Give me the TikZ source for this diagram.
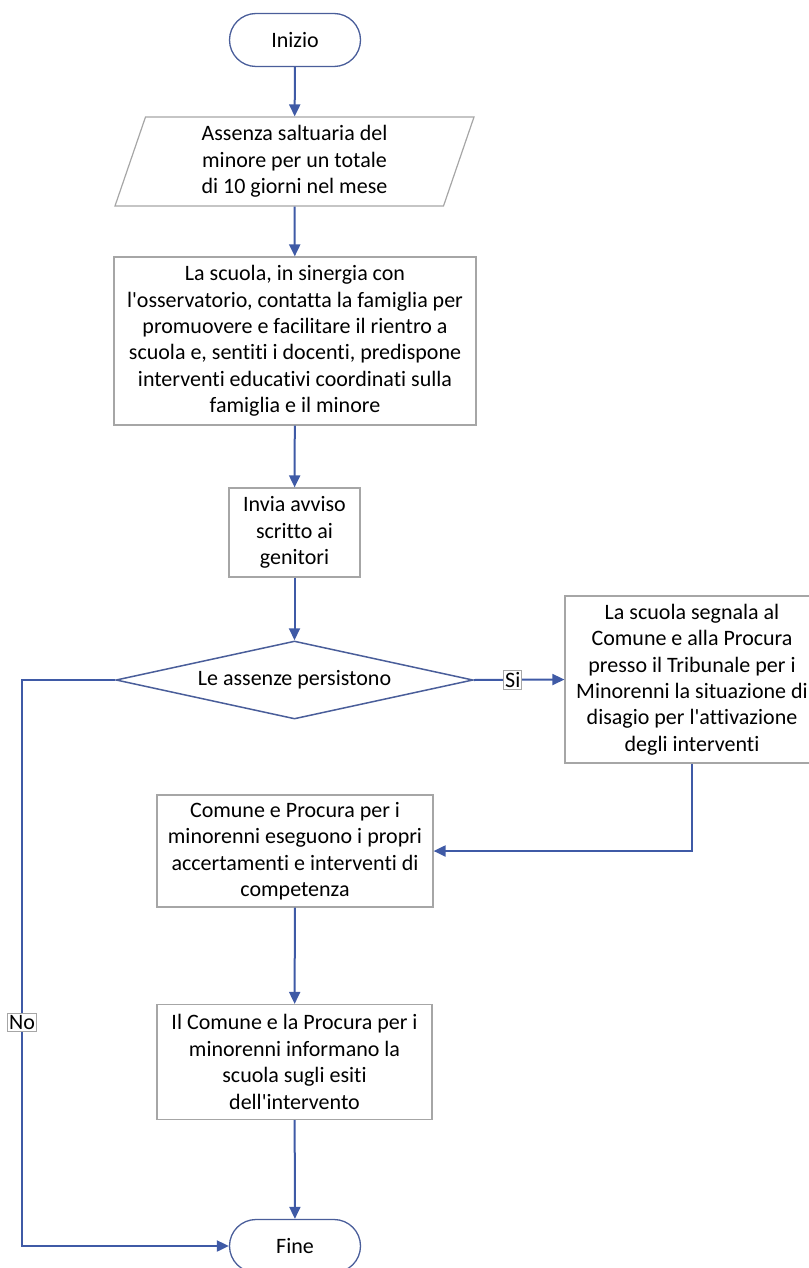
\documentclass[tikz,border=0pt]{standalone}
\usepackage{fontspec}
\setmainfont{Carlito}[Ligatures={NoCommon,TeXOff}]
\usetikzlibrary{arrows.meta,shapes.geometric,positioning}

\definecolor{linkblue}{HTML}{3F5AA6}
\definecolor{termblue}{HTML}{4A5E9A}
\definecolor{boxgray}{HTML}{A6A6A6}

\tikzset{
  every node/.style={font=\fontsize{22}{26.4}\selectfont, align=center, inner sep=0pt},
  terminal/.style={draw=termblue, line width=1.3pt, rounded corners=26.5pt, minimum width=131pt, minimum height=53pt},
  inputbox/.style={draw=boxgray, line width=1.2pt, trapezium, trapezium left angle=67, trapezium right angle=113,
    trapezium stretches body, minimum width=359pt, minimum height=89pt},
  actbox/.style={draw=boxgray, line width=1.2pt},
  choice/.style={draw=termblue, line width=1.5pt, diamond, aspect=4.5, minimum width=357pt, minimum height=78pt},
  flow/.style={draw=linkblue, line width=2pt, -{Triangle[length=12pt,width=11pt]}},
  tag/.style={draw=boxgray, fill=white, line width=0.8pt, inner sep=1.5pt}
}

\begin{document}
\begin{tikzpicture}[x=1pt,y=-1pt]
        \useasboundingbox (0,0) rectangle (808,1268);
        \node[terminal] (start) at (295,40) {Inizio};
        \node[inputbox] (input) at (294.5,161.5) {Assenza saltuaria del\\minore per un totale\\di 10 giorni nel mese};
        \node[actbox, minimum width=362pt, minimum height=168pt] (contact) at (295,341)
            {La scuola, in sinergia con\\l'osservatorio, contatta la famiglia per\\promuovere e facilitare il rientro a\\scuola e, sentiti i docenti, predispone\\interventi educativi coordinati sulla\\famiglia e il minore};
        \node[actbox, minimum width=131pt, minimum height=89pt] (notice) at (294.5,532.5) {Invia avviso\\scritto ai\\genitori};
        \node[choice] (persist) at (294.5,680) {Le assenze persistono};
        \node[actbox, minimum width=254pt, minimum height=167pt] (report) at (692,679.5)
            {La scuola segnala al\\Comune e alla Procura\\presso il Tribunale per i\\Minorenni la situazione di\\disagio per l'attivazione\\degli interventi};
        \node[actbox, minimum width=276pt, minimum height=112pt] (check) at (295,851)
            {Comune e Procura per i\\minorenni eseguono i propri\\accertamenti e interventi di\\competenza};
        \node[actbox, minimum width=275pt, minimum height=115pt] (inform) at (294.5,1062)
            {Il Comune e la Procura per i\\minorenni informano la\\scuola sugli esiti\\dell'intervento};
        \node[terminal] (stop) at (295,1246) {Fine};
        \coordinate (nocorner) at (22,680);
        \coordinate (nobottom) at (22,1246);

        % main flow
        \draw[flow] (start) -- (input);
        \draw[flow] (input) -- (contact);
        \draw[flow] (contact) -- (notice);
        \draw[flow] (notice) -- (persist);
        \draw[flow] (persist.east) -- node[tag, pos=0.43] (yes) {Si} (report.west);
        \draw[flow] (report.south) |- (check.east);
        \draw[flow] (check) -- (inform);
        \draw[flow] (inform) -- (stop);
        % no branch
        \draw[flow] (persist.west) -- (nocorner) -- node[tag, pos=0.605] (no) {No} (nobottom) -- (stop.west);
\end{tikzpicture}
\end{document}
